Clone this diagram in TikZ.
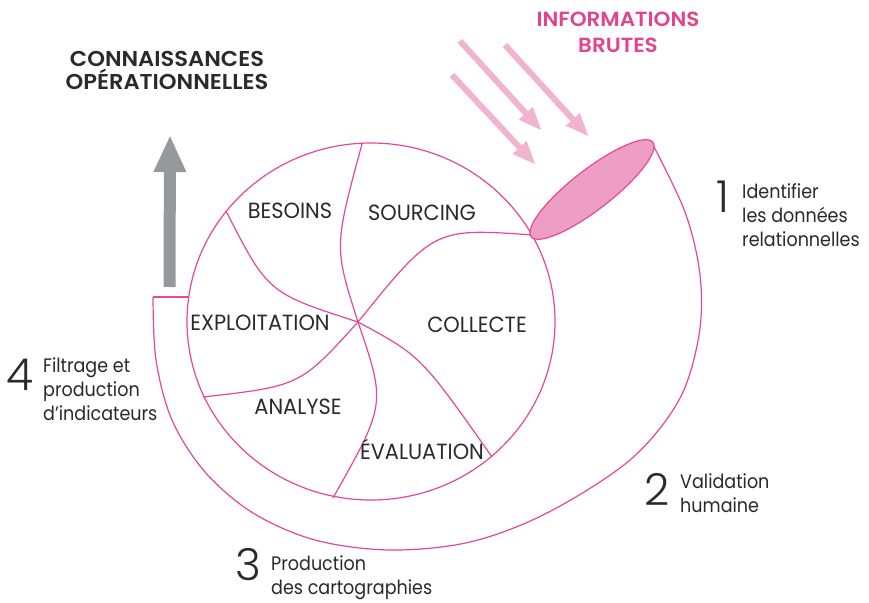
\documentclass[tikz,border=0pt]{standalone}
\usepackage{fontspec}
\setmainfont{Poppins}[FakeStretch=0.9]
\IfFontExistsTF{Poppins Light}{\newfontfamily\digitfont{Poppins Light}}{\newfontfamily\digitfont{Poppins}}
\IfFontExistsTF{Poppins SemiBold}{\newfontfamily\headfont{Poppins SemiBold}[FakeStretch=1.05]}{\newfontfamily\headfont{Poppins}[FakeStretch=1.05,UprightFont=*-Bold]}
\newfontfamily\segfont{Poppins}[FakeStretch=0.95]
\usetikzlibrary{arrows.meta}
\definecolor{lineP}{RGB}{229,72,150}
\definecolor{ellP}{RGB}{238,158,196}
\definecolor{textP}{RGB}{226,68,142}
\definecolor{arrP}{RGB}{241,180,208}
\definecolor{grayA}{RGB}{150,153,156}
\definecolor{textD}{RGB}{42,42,42}
\tikzset{
  bandline/.style={draw=lineP, line width=1.2pt},
  pinkarrow/.style={draw=arrP, line width=6pt, -{Triangle[width=17pt,length=24pt]}},
  grayarrow/.style={draw=grayA, line width=12pt, -{Triangle[width=30pt,length=37pt]}},
  seglabel/.style={text=textD, inner sep=0pt, anchor=base, font=\segfont\fontsize{22}{24}\selectfont},
  numlabel/.style={text=textD, inner sep=0pt, anchor=base, text height=31pt, text depth=0pt, font=\digitfont\fontsize{44}{44}\selectfont},
  desclabel/.style={text=textD, inner sep=0pt, anchor=north west, align=left, font=\fontsize{19.5}{24}\selectfont},
  headlabel/.style={inner sep=0pt, align=center}
}
\begin{document}
\begin{tikzpicture}[x=1pt,y=-1pt]
\useasboundingbox[fill=white] (0,0) rectangle (869,602);

% key points
\coordinate (O) at (371,321.5);
\coordinate (C) at (358,322);
\coordinate (p1) at (362,144);
\coordinate (p2) at (226,211);
\coordinate (p3) at (203,397);
\coordinate (p4) at (333,498);
\coordinate (p5) at (492,457);
\coordinate (p6) at (533,235);
\coordinate (k1) at (334,247);
\coordinate (k2) at (268,293);
\coordinate (k3) at (300,386);
\coordinate (k4) at (386,404);
\coordinate (k5) at (421,356);
\coordinate (k6) at (434,228);
\coordinate (E) at (592,189.5);
\coordinate (bandA) at (188.7,297);
\coordinate (bandB) at (153,297);

% outer band
\draw[bandline] (bandA) -- (bandB);
\draw[bandline] plot[smooth, tension=0.55] coordinates {
 (153,297) (156,360) (172,420) (205,472) (253,513) (315,540) (390,550)
 (470,542) (547,513) (630,460) (679,400) (699,335) (700,275) (685,212) (652,143)};

% main circle
\draw[bandline, fill=white] (O) ellipse [x radius=184, y radius=178.5];

% spiral spokes
\draw[bandline] (C) .. controls (k1) .. (p1);
\draw[bandline] (C) .. controls (k2) .. (p2);
\draw[bandline] (C) .. controls (k3) .. (p3);
\draw[bandline] (C) .. controls (k4) .. (p4);
\draw[bandline] (C) .. controls (k5) .. (p5);
\draw[bandline] (C) .. controls (k6) .. (p6);

% opening ellipse
\draw[bandline, fill=ellP, rotate around={37.8:(E)}] (E) ellipse [x radius=77, y radius=20];

% incoming arrows
\coordinate (a1s) at (460,41);
\coordinate (a1e) at (542,131);
\coordinate (a2s) at (505,45);
\coordinate (a2e) at (589,137);
\coordinate (a3s) at (452,75);
\coordinate (a3e) at (536,165);
\draw[pinkarrow] (a1s) -- (a1e);
\draw[pinkarrow] (a2s) -- (a2e);
\draw[pinkarrow] (a3s) -- (a3e);

% outgoing gray arrow
\coordinate (g0) at (169.5,287);
\coordinate (g1) at (170,135);
\draw[grayarrow] (g0) -- (g1);

% headings
\node[headlabel, text=textP, font=\headfont\fontsize{20.5}{26}\selectfont] (info) at (618,32) {INFORMATIONS\\BRUTES};
\node[headlabel, text=textD, font=\headfont\fontsize{21.5}{23}\selectfont] (conn) at (167,70) {CONNAISSANCES\\OPÉRATIONNELLES};

% segment labels
\node[seglabel] (besoins) at (290,218) {BESOINS};
\node[seglabel] (sourcing) at (422,220) {SOURCING};
\node[seglabel] (exploit) at (260,330.5) {EXPLOITATION};
\node[seglabel] (collecte) at (477,332) {COLLECTE};
\node[seglabel] (analyse) at (298,414.5) {ANALYSE};
\node[seglabel] (evaluation) at (422,459.5) {ÉVALUATION};

% numbered steps
\node[numlabel] (n1) at (723,212) {1};
\node[desclabel] (d1) at (742,183) {Identifier\\les données\\relationnelles};
\node[numlabel] (n2) at (657,505) {2};
\node[desclabel] (d2) at (680,473) {Validation\\humaine};
\node[numlabel] (n3) at (248,580) {3};
\node[desclabel] (d3) at (271,555) {Production\\des cartographies};
\node[numlabel] (n4) at (20,390) {4};
\node[desclabel] (d4) at (43,357) {Filtrage et\\production\\d’indicateurs};
\end{tikzpicture}
\end{document}
